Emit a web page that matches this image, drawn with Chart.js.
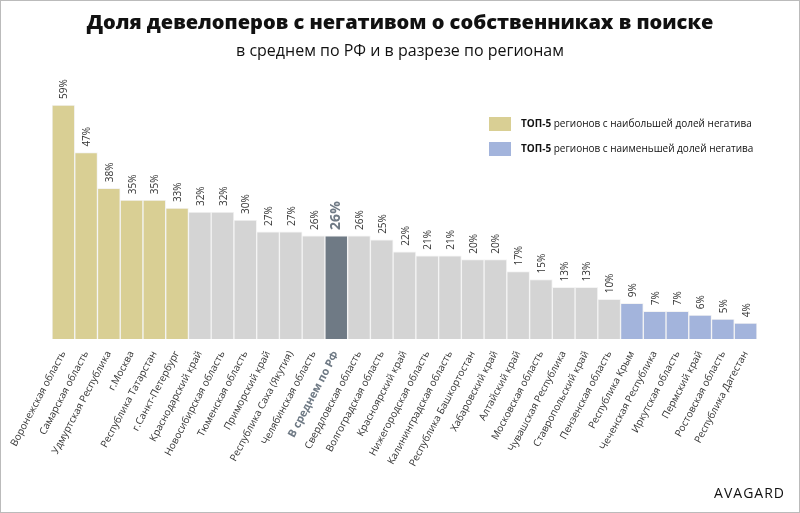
<!DOCTYPE html>
<html><head><meta charset="utf-8">
<script src="https://cdn.jsdelivr.net/npm/chart.js@4"></script>
<style>
body{margin:0;background:#fff;font-family:"Open Sans",sans-serif}
#wrap{position:relative;width:798px;height:511px;border:1px solid #bbb}
h1{position:absolute;top:7px;left:0;width:100%;text-align:center;margin:0;font-size:20px;font-weight:800;color:#111}
h2{position:absolute;top:38px;left:0;width:100%;text-align:center;margin:0;font-size:16px;font-weight:400;color:#111}
.lg{position:absolute;left:488px;font-size:10px;color:#111}
.lg b{font-weight:700}
.lg span{display:inline-block;width:22px;height:14px;vertical-align:middle;margin-right:10px}
#brand{position:absolute;right:14px;bottom:10px;font-size:14px;letter-spacing:1px;color:#111}
canvas{position:absolute;left:0;top:0}
</style></head><body>
<div id="wrap">
<canvas id="c" width="798" height="511"></canvas>
<h1>Доля девелоперов с негативом о собственниках в поиске</h1>
<h2>в среднем по РФ и в разрезе по регионам</h2>
<div class="lg" style="top:115px"><span style="background:#d9cf94"></span><b>ТОП-5</b> регионов с наибольшей долей негатива</div>
<div class="lg" style="top:140px"><span style="background:#a3b4dc"></span><b>ТОП-5</b> регионов с наименьшей долей негатива</div>
<div id="brand">AVAGARD</div>
</div>
<script>
const regions = ["Воронежская область","Самарская область","Удмуртская Республика","г.Москва","Республика Татарстан","г.Санкт-Петербург","Краснодарский край","Новосибирская область","Тюменская область","Приморский край","Республика Саха (Якутия)","Челябинская область","В среднем по РФ","Свердловская область","Волгоградская область","Красноярский край","Нижегородская область","Калининградская область","Республика Башкортостан","Хабаровский край","Алтайский край","Московская область","Чувашская Республика","Ставропольский край","Пензенская область","Республика Крым","Чеченская Республика","Иркутская область","Пермский край","Ростовская область","Республика Дагестан"];
const shares = [59,47,38,35,35,33,32,32,30,27,27,26,26,26,25,22,21,21,20,20,17,15,13,13,10,9,7,7,6,5,4];
const AVG = "В среднем по РФ";
const colors = shares.map((v,i)=> i<6 ? "#d9cf94" : regions[i]===AVG ? "#6f7a85" : i>=shares.length-6 ? "#a3b4dc" : "#d4d4d4");

const valueLabels = {
  id:"valueLabels",
  afterDatasetsDraw(chart){
    const ctx = chart.ctx;
    chart.getDatasetMeta(0).data.forEach((bar,i)=>{
      const avg = regions[i]===AVG;
      ctx.save();
      ctx.translate(bar.x+4, bar.y-6);
      ctx.rotate(-Math.PI/2);
      ctx.font = avg ? "bold 14px 'Open Sans'" : "10px 'Open Sans'";
      ctx.fillStyle = avg ? "#6f7a85" : "#333";
      ctx.textAlign = "left";
      ctx.fillText(shares[i]+"%",0,0);
      ctx.restore();
    });
  }
};

new Chart(document.getElementById("c"),{
  type:"bar",
  data:{labels:regions,datasets:[{data:shares,backgroundColor:colors,borderColor:"#f4f4f4",borderWidth:1,categoryPercentage:1,barPercentage:1}]},
  options:{
    responsive:false,animation:false,
    layout:{padding:{top:104,left:51,right:42,bottom:0}},
    plugins:{legend:{display:false},tooltip:{enabled:false}},
    scales:{
      y:{display:false,min:0,max:59},
      x:{grid:{display:false},border:{display:false},
        afterFit(s){s.height=511-338;},
        ticks:{minRotation:62,maxRotation:62,padding:2,
          font:c=>regions[c.index]===AVG?{size:11,weight:"bold",family:"Open Sans"}:{size:10,family:"Open Sans"},
          color:c=>regions[c.index]===AVG?"#6f7a85":"#333"}}
    }
  },
  plugins:[valueLabels]
});
</script>
</body></html>
